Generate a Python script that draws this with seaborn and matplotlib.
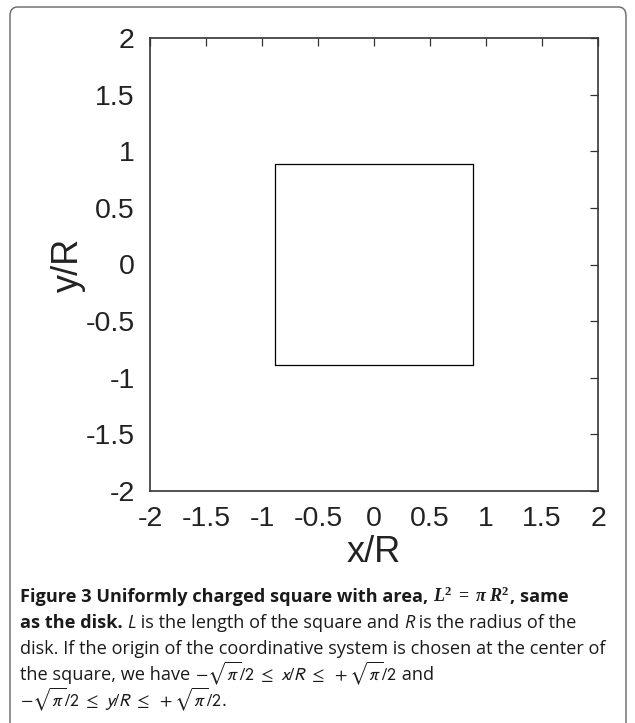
import numpy as np
import pandas as pd
import matplotlib
matplotlib.use("Agg")
import matplotlib.pyplot as plt
from matplotlib.patches import FancyBboxPatch
import seaborn as sns

# square outline, half side = sqrt(pi)/2
square_x = [-0.886, 0.886, 0.886, -0.886, -0.886]
square_y = [-0.886, -0.886, 0.886, 0.886, -0.886]
tick_values = [-2, -1.5, -1, -0.5, 0, 0.5, 1, 1.5, 2]
tick_labels = ["-2", "-1.5", "-1", "-0.5", "0", "0.5", "1", "1.5", "2"]

df = pd.DataFrame({"x": square_x, "y": square_y})

sns.set_theme(style="white")
plt.rcParams["font.family"] = ["Liberation Sans", "DejaVu Sans"]
plt.rcParams["mathtext.fontset"] = "custom"
plt.rcParams["mathtext.rm"] = "Liberation Serif:bold"
plt.rcParams["mathtext.it"] = "Liberation Serif:italic"
plt.rcParams["mathtext.bf"] = "Liberation Serif:italic:bold"
plt.rcParams["mathtext.fallback"] = "stix"

fig = plt.figure(figsize=(6.35, 7.23), dpi=100)
ax = fig.add_axes([150 / 635, 1 - 491 / 723, 448 / 635, 453 / 723])

sns.lineplot(data=df, x="x", y="y", sort=False, estimator=None,
             color="black", linewidth=0.9, ax=ax)

ax.set_xlim(-2, 2)
ax.set_ylim(-2, 2)
ax.set_xticks(tick_values)
ax.set_xticklabels(tick_labels)
ax.set_yticks(tick_values)
ax.set_yticklabels(tick_labels)
ax.tick_params(direction="in", length=6, width=0.9, color="#333333",
               labelsize=20.5, labelcolor="#222222", top=True, right=True,
               pad=11)
for s in ax.spines.values():
    s.set_color("#333333")
    s.set_linewidth(1.2)
ax.set_xlabel("x/R", fontsize=26, color="#222222", labelpad=2)
ax.set_ylabel("y/R", fontsize=26, color="#222222", labelpad=0)

# outer rounded frame
frame = FancyBboxPatch((10 / 635, -0.02), 616 / 635, 1 - 7 / 723 + 0.02,
                       boxstyle="round,pad=0,rounding_size=0.012",
                       transform=fig.transFigure, fill=False,
                       edgecolor="#666666", linewidth=1.0, clip_on=False)
fig.patches.append(frame)

# caption
cap_font = ["Open Sans", "DejaVu Sans"]
cap_size = 13.1
renderer = fig.canvas.get_renderer()


def write_line(y_px, parts):
    x = 20 / 635
    for txt, weight, style, mfont in parts:
        t = fig.text(x, 1 - y_px / 723, txt, fontsize=cap_size, family=cap_font,
                     fontweight=weight, fontstyle=style, color="#1a1a1a",
                     va="baseline", ha="left", math_fontfamily=mfont)
        bb = t.get_window_extent(renderer=renderer)
        x += bb.width / fig.bbox.width


write_line(602, [("Figure 3 Uniformly charged square with area, ", "bold", "normal", "custom"),
                 (r"$\mathbf{L}^{\mathrm{2}}\mathrm{\ =\ }\mathbf{\pi\ R}^{\mathrm{2}}$",
                  "bold", "normal", "custom"),
                 (", same", "bold", "normal", "custom")])
write_line(628, [("as the disk.", "bold", "normal", "custom"),
                 (" ", "normal", "normal", "custom"),
                 ("L", "normal", "italic", "custom"),
                 (" is the length of the square and ", "normal", "normal", "custom"),
                 ("R", "normal", "italic", "custom"),
                 (" is the radius of the", "normal", "normal", "custom")])
write_line(654, [("disk. If the origin of the coordinative system is chosen at the center of",
                  "normal", "normal", "custom")])
write_line(680, [("the square, we have ", "normal", "normal", "custom"),
                 (r"$-\sqrt{\pi}/2\ \leq\ x/R\ \leq\ +\sqrt{\pi}/2$", "normal", "normal", "stixsans"),
                 (" and", "normal", "normal", "custom")])
write_line(706, [(r"$-\sqrt{\pi}/2\ \leq\ y/R\ \leq\ +\sqrt{\pi}/2$", "normal", "normal", "stixsans"),
                 (".", "normal", "normal", "custom")])

fig.savefig("out.png", dpi=100)
